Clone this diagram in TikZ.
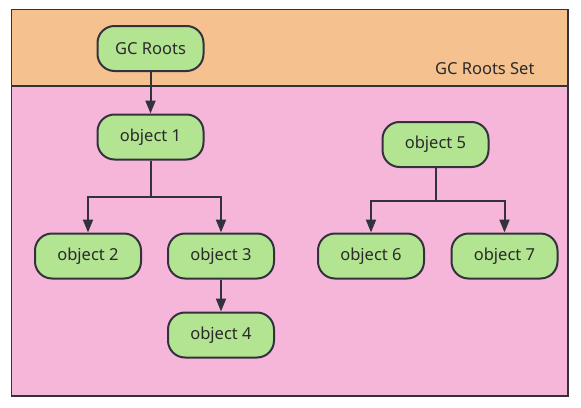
\documentclass[tikz,border=0pt]{standalone}
\usepackage{fontspec}
\setmainfont{Noto Sans}
\usetikzlibrary{arrows.meta}
\definecolor{rootsfill}{HTML}{F4C18F}
\definecolor{heapfill}{HTML}{F5B6DA}
\definecolor{objfill}{HTML}{B2E492}
\definecolor{edge}{HTML}{33313B}
\definecolor{txt}{HTML}{2A2A2A}
\tikzset{
  x=1pt, y=-1pt,
  obj/.style={draw=edge, line width=2pt, fill=objfill, rounded corners=17pt,
    minimum width=106pt, minimum height=45pt, inner sep=0pt,
    font=\fontsize{16.5}{20}\selectfont, text=txt},
  conn/.style={draw=edge, line width=2pt},
  arr/.style={conn, -{Triangle[length=13pt,width=10pt]}},
}
\begin{document}
\begin{tikzpicture}
\useasboundingbox (0,0) rectangle (581,407);
\fill[white] (0,0) rectangle (581,407);
% panels
\fill[rootsfill] (11.5,9.5) rectangle (568,86);
\fill[heapfill] (11.5,86) rectangle (568,396);
\draw[draw=edge, line width=1.8pt] (11.5,9.5) rectangle (568,396);
\draw[draw=edge, line width=1.8pt] (11.5,86) -- (568,86);
\node[anchor=east, font=\fontsize{16.5}{20}\selectfont, text=txt] (setlbl) at (538,69) {GC Roots Set};
% nodes
\node[obj] (gc) at (150.5,48.5) {GC Roots};
\node[obj] (o1) at (150.5,137) {object 1};
\node[obj] (o2) at (88,256) {object 2};
\node[obj] (o3) at (221,256) {object 3};
\node[obj] (o4) at (221,335) {object 4};
\node[obj] (o5) at (435.5,144.5) {object 5};
\node[obj] (o6) at (371,256) {object 6};
\node[obj] (o7) at (504.5,256) {object 7};
% connectors
\draw[arr] (gc) -- (o1);
\coordinate (j1) at (150.5,197);
\draw[conn] (o1) -- (j1);
\draw[arr] (j1) -| (o2);
\draw[arr] (j1) -| (o3);
\draw[arr] (o3) -- (o4);
\coordinate (j5) at (435.5,201);
\draw[conn] (o5) -- (j5);
\draw[arr] (j5) -| (o6);
\draw[arr] (j5) -| (o7);
\end{tikzpicture}
\end{document}
